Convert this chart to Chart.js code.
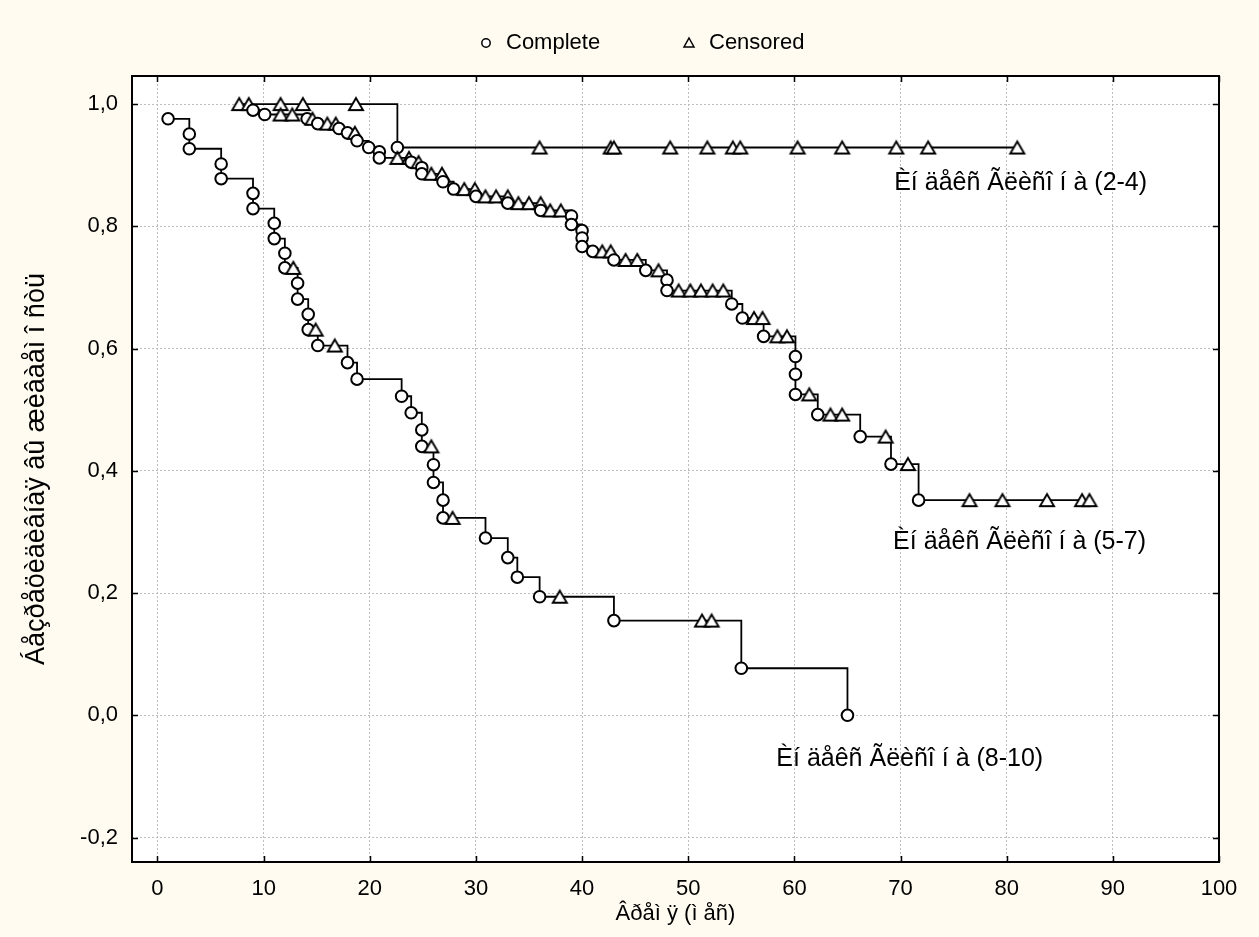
<!DOCTYPE html>
<html>
<head>
<meta charset="utf-8">
<title>Kaplan-Meier</title>
<script src="https://cdn.jsdelivr.net/npm/chart.js@4.4.1/dist/chart.umd.min.js"></script>
<style>
  html, body { margin: 0; padding: 0; background: #fffbf0; }
  #wrap { width: 1259px; height: 937px; }
</style>
</head>
<body>
<div id="wrap"><canvas id="myChart" width="1259" height="937"></canvas></div>
<script>
// group (2-4): months, survival, censored flag
var time24 = [7.7, 8.6, 11.6, 13.7, 18.7, 22.6, 36.0, 42.7, 43.0, 48.3, 51.8, 54.2, 54.9, 60.3, 64.5, 69.6, 72.6, 81.0];
var surv24 = [1, 1, 1, 1, 1, 0.929, 0.929, 0.929, 0.929, 0.929, 0.929, 0.929, 0.929, 0.929, 0.929, 0.929, 0.929, 0.929];
var cens24 = [1, 1, 1, 1, 1, 0, 1, 1, 1, 1, 1, 1, 1, 1, 1, 1, 1, 1];

// group (5-7)
var time57 = [9.0, 10.1, 11.6, 12.7, 14.1, 14.6, 15.1, 16.0, 16.8, 17.1, 17.9, 18.6, 18.8, 19.9, 20.9, 20.9,
    22.6, 23.7, 23.9, 24.6, 24.9, 24.9, 25.8, 26.8, 26.9, 27.9, 28.9, 29.9, 30.0, 30.9, 31.9, 33.0, 33.0,
    34.0, 35.0, 36.1, 36.1, 37.0, 38.0, 39.0, 39.0, 40.0, 40.0, 40.0, 41.0, 41.9, 42.7, 43.0, 44.1, 45.2,
    46.0, 47.2, 48.0, 48.0, 49.1, 50.2, 51.2, 52.3, 53.3, 54.1, 55.1, 56.2, 57.0, 57.1, 58.4, 59.3,
    60.1, 60.1, 60.1, 61.4, 62.2, 63.4, 64.5, 66.2, 68.6, 69.1, 70.7, 71.7, 76.5, 79.6, 83.8, 87.1, 87.8];
var surv57 = [0.990, 0.983, 0.983, 0.983, 0.976, 0.976, 0.968, 0.968, 0.968, 0.960, 0.953, 0.953, 0.940, 0.929, 0.922, 0.912,
    0.912, 0.912, 0.905, 0.905, 0.896, 0.886, 0.886, 0.886, 0.873, 0.861, 0.861, 0.861, 0.849, 0.849, 0.849, 0.849, 0.838,
    0.838, 0.838, 0.838, 0.826, 0.826, 0.826, 0.817, 0.803, 0.793, 0.781, 0.767, 0.759, 0.759, 0.759, 0.745, 0.745, 0.745,
    0.728, 0.728, 0.712, 0.695, 0.695, 0.695, 0.695, 0.695, 0.695, 0.673, 0.650, 0.650, 0.650, 0.620, 0.620, 0.620,
    0.587, 0.558, 0.525, 0.525, 0.492, 0.492, 0.492, 0.456, 0.456, 0.411, 0.411, 0.352, 0.352, 0.352, 0.352, 0.352, 0.352];
var cens57 = [0, 0, 1, 1, 0, 1, 0, 1, 1, 0, 0, 1, 0, 0, 0, 0,
    1, 1, 0, 1, 0, 0, 1, 1, 0, 0, 1, 1, 0, 1, 1, 1, 0,
    1, 1, 1, 0, 1, 1, 0, 0, 0, 0, 0, 0, 1, 1, 0, 1, 1,
    0, 1, 0, 0, 1, 1, 1, 1, 1, 0, 0, 1, 1, 0, 1, 1,
    0, 0, 0, 1, 0, 1, 1, 0, 1, 0, 1, 0, 1, 1, 1, 1, 1];

// group (8-10)
var time810 = [1.0, 3.0, 3.0, 6.0, 6.0, 9.0, 9.0, 11.0, 11.0, 12.0, 12.0, 12.8, 13.2, 13.2, 14.2, 14.2, 14.9, 15.1,
    16.7, 17.9, 18.8, 23.0, 23.9, 24.9, 24.9, 25.8, 26.0, 26.0, 26.9, 26.9, 27.8, 30.9, 33.0, 33.9, 36.0, 37.9,
    43.0, 51.3, 52.2, 55.0, 65.0];
var surv810 = [0.976, 0.951, 0.927, 0.902, 0.878, 0.854, 0.829, 0.805, 0.780, 0.756, 0.732, 0.732, 0.707, 0.681, 0.656, 0.631, 0.631, 0.605,
    0.605, 0.577, 0.550, 0.522, 0.495, 0.467, 0.440, 0.440, 0.410, 0.381, 0.352, 0.323, 0.323, 0.290, 0.258, 0.226, 0.194, 0.194,
    0.155, 0.155, 0.155, 0.077, 0.000];
var cens810 = [0, 0, 0, 0, 0, 0, 0, 0, 0, 0, 0, 1, 0, 0, 0, 0, 1, 0,
    1, 0, 0, 0, 0, 0, 0, 1, 0, 0, 0, 0, 1, 0, 0, 0, 0, 1,
    0, 1, 1, 0, 0];

var groupNames = ['Èí äåêñ Ãëèñî í à (2-4)', 'Èí äåêñ Ãëèñî í à (5-7)', 'Èí äåêñ Ãëèñî í à (8-10)'];
var legendNames = ['Complete', 'Censored'];
var xTicks = [0, 10, 20, 30, 40, 50, 60, 70, 80, 90, 100];
var yTicks = [-0.2, 0, 0.2, 0.4, 0.6, 0.8, 1.0];
var xTitle = 'Âðåì ÿ (ì åñ)';
var yTitle = 'Áåçðåöèäèâíàÿ âû æèâàåì î ñòü';

var FONT = "'Liberation Sans', Arial, sans-serif";
var BG = '#fffbf0';

// where the group names sit, in axis units (left edge, middle)
var labelAt = [[69.4, 0.870], [69.3, 0.283], [58.3, -0.072]];

function makeTriangle(w, h, lw) {
    var c = document.createElement('canvas');
    c.width = w + 4;
    c.height = h + 4;
    var g = c.getContext('2d');
    var top = (c.height - h) / 2 + lw / 2, bot = top + h - lw;
    g.beginPath();
    g.moveTo(c.width / 2, top);
    g.lineTo(c.width / 2 + (w - lw) / 2, bot);
    g.lineTo(c.width / 2 - (w - lw) / 2, bot);
    g.closePath();
    g.fillStyle = '#ffffff';
    g.fill();
    g.lineWidth = lw;
    g.strokeStyle = '#000000';
    g.stroke();
    return c;
}

var triMark = makeTriangle(16, 14, 1.9);

function kmDataset(times, surv, cens) {
    return {
        data: times.map(function (t, i) { return {x: t, y: surv[i]}; }),
        showLine: true,
        stepped: true,
        borderColor: '#000000',
        borderWidth: 1.8,
        backgroundColor: '#ffffff',
        pointBackgroundColor: '#ffffff',
        pointBorderColor: '#000000',
        pointBorderWidth: 2,
        pointRadius: 5.8,
        pointHoverRadius: 5.8,
        pointStyle: function (ctx) { return cens[ctx.dataIndex] ? triMark : 'circle'; }
    };
}

var framePlugin = {
    id: 'frame',
    beforeDraw: function (chart) {
        var ctx = chart.ctx, a = chart.chartArea;
        ctx.save();
        ctx.fillStyle = BG;
        ctx.fillRect(0, 0, chart.width, chart.height);
        ctx.fillStyle = '#ffffff';
        ctx.fillRect(a.left, a.top, a.right - a.left, a.bottom - a.top);
        ctx.restore();
    },
    afterDatasetsDraw: function (chart) {
        var ctx = chart.ctx, xs = chart.scales.x, ys = chart.scales.y;
        ctx.save();
        ctx.fillStyle = '#000000';
        ctx.font = '25px ' + FONT;
        ctx.textAlign = 'left';
        ctx.textBaseline = 'middle';
        groupNames.forEach(function (name, i) {
            ctx.fillText(name, xs.getPixelForValue(labelAt[i][0]), ys.getPixelForValue(labelAt[i][1]));
        });
        ctx.restore();
    },
    afterDraw: function (chart) {
        var ctx = chart.ctx, a = chart.chartArea, xs = chart.scales.x, ys = chart.scales.y;
        var tl = 6;
        ctx.save();
        ctx.strokeStyle = '#000000';
        ctx.lineWidth = 1.5;
        ctx.beginPath();
        xTicks.forEach(function (v) {
            var px = Math.round(xs.getPixelForValue(v)) + 0.5;
            ctx.moveTo(px, a.bottom); ctx.lineTo(px, a.bottom - tl);
            ctx.moveTo(px, a.top); ctx.lineTo(px, a.top + tl);
        });
        yTicks.forEach(function (v) {
            var py = Math.round(ys.getPixelForValue(v)) + 0.5;
            ctx.moveTo(a.left, py); ctx.lineTo(a.left + tl, py);
            ctx.moveTo(a.right, py); ctx.lineTo(a.right - tl, py);
        });
        ctx.stroke();
        ctx.lineWidth = 2;
        ctx.strokeRect(a.left, a.top, a.right - a.left, a.bottom - a.top);

        // legend row
        var ly = 43;
        ctx.font = '22px ' + FONT;
        ctx.textBaseline = 'middle';
        ctx.textAlign = 'left';
        ctx.lineWidth = 1.5;
        ctx.beginPath();
        ctx.arc(486, ly, 4.2, 0, Math.PI * 2);
        ctx.fillStyle = '#ffffff';
        ctx.fill();
        ctx.stroke();
        ctx.fillStyle = '#000000';
        ctx.fillText(legendNames[0], 506, ly);
        ctx.beginPath();
        ctx.moveTo(689, ly - 5);
        ctx.lineTo(694, ly + 4);
        ctx.lineTo(684, ly + 4);
        ctx.closePath();
        ctx.stroke();
        ctx.fillText(legendNames[1], 709, ly);
        ctx.restore();
    }
};

var ctx = document.getElementById('myChart').getContext('2d');
var myChart = new Chart(ctx, {
    type: 'scatter',
    data: {
        datasets: [
            kmDataset(time810, surv810, cens810),
            kmDataset(time57, surv57, cens57),
            kmDataset(time24, surv24, cens24)
        ]
    },
    options: {
        responsive: false,
        animation: false,
        devicePixelRatio: 1,
        layout: { padding: { left: 0, right: 40, top: 76, bottom: 0 } },
        plugins: {
            legend: { display: false },
            tooltip: { enabled: false }
        },
        scales: {
            x: {
                type: 'linear',
                min: -2.4,
                max: 100,
                afterBuildTicks: function (scale) {
                    scale.ticks = xTicks.map(function (v) { return {value: v}; });
                },
                afterFit: function (scale) { scale.height = 75; },
                ticks: {
                    autoSkip: false,
                    maxRotation: 0,
                    padding: 14,
                    color: '#000000',
                    font: { family: FONT, size: 22 }
                },
                grid: { color: '#bdbdbd', lineWidth: 1, drawTicks: false },
                border: { display: false, dash: [2, 2] },
                title: {
                    display: true,
                    text: xTitle,
                    color: '#000000',
                    font: { family: FONT, size: 22 },
                    padding: { top: 0, bottom: 10 }
                }
            },
            y: {
                type: 'linear',
                min: -0.24,
                max: 1.046,
                afterBuildTicks: function (scale) {
                    scale.ticks = yTicks.map(function (v) { return {value: v}; });
                },
                afterFit: function (scale) { scale.width = 132; },
                ticks: {
                    padding: 14,
                    color: '#000000',
                    font: { family: FONT, size: 22 },
                    callback: function (v) { return v.toFixed(1).replace('.', ','); }
                },
                grid: { color: '#bdbdbd', lineWidth: 1, drawTicks: false },
                border: { display: false, dash: [2, 2] },
                title: {
                    display: true,
                    text: yTitle,
                    color: '#000000',
                    font: { family: FONT, size: 27 },
                    padding: { top: 20, bottom: 0 }
                }
            }
        }
    },
    plugins: [framePlugin]
});
</script>
</body>
</html>
